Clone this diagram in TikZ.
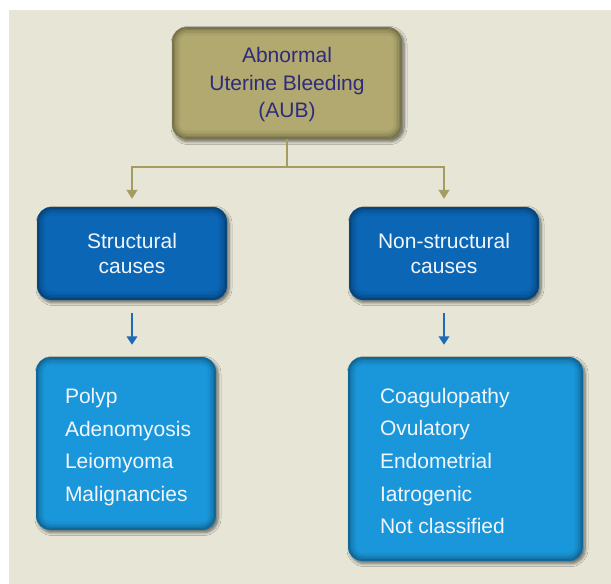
\documentclass[tikz,border=0pt]{standalone}
\usepackage{fontspec}
\setmainfont{Liberation Sans}
\usetikzlibrary{arrows.meta,shadows.blur,calc}
\definecolor{bgbeige}{HTML}{E7E5D5}
\definecolor{olivebox}{HTML}{B1A96F}
\definecolor{navytext}{HTML}{2E2B7B}
\definecolor{midblue}{HTML}{0B66B5}
\definecolor{lightblue}{HTML}{1A97DA}
\definecolor{oliveline}{HTML}{A59C62}
\definecolor{arrowblue}{HTML}{1E6BB8}
\definecolor{whitetext}{HTML}{F2F6FA}
\tikzset{
  bevel/.style={path picture={
    \foreach \d/\o/\r in {0.8/0.30/13.5,2.2/0.22/12,3.6/0.15/10.5,5/0.10/9,6.4/0.06/7.5,7.8/0.03/6}{
      \draw[black, opacity=\o, line width=1.5pt, rounded corners=\r pt]
        ([shift={(\d pt,\d pt)}]path picture bounding box.south west) rectangle
        ([shift={(-\d pt,-\d pt)}]path picture bounding box.north east);
    }}},
  boxbase/.style={rounded corners=14pt, inner sep=0pt, bevel,
    blur shadow={shadow xshift=2pt, shadow yshift=-2.5pt, shadow blur steps=6,
      shadow opacity=55, shadow blur radius=3pt}},
  topbox/.style={boxbase, fill=olivebox},
  toptext/.style={text=navytext, align=center, inner sep=0pt,
    font=\fontsize{21}{27.5}\selectfont},
  midbox/.style={boxbase, fill=midblue, text=whitetext, align=center,
    font=\fontsize{21}{25.5}\selectfont, minimum width=190pt, minimum height=93pt},
  lowbox/.style={boxbase, fill=lightblue},
  lowtext/.style={text=whitetext, align=left, inner sep=0pt, anchor=west,
    font=\fontsize{21}{32.6}\selectfont},
  oliveconn/.style={draw=oliveline, line width=1.5pt},
  olivearrow/.style={oliveconn, -{Triangle[width=11pt,length=9pt]}},
  bluearrow/.style={draw=arrowblue, line width=2pt, -{Triangle[width=10.5pt,length=8.5pt]}}
}
\begin{document}
\begin{tikzpicture}[x=1pt,y=-1pt]
  \useasboundingbox (0,0) rectangle (611,584);
  \fill[white] (0,0) rectangle (611,584);
  \fill[bgbeige] (9,10) rectangle (611,584);

  \node[topbox, minimum width=230pt, minimum height=112pt] (aub) at (287,83) {};
  \node[toptext] (aubtext) at ($(aub.center)+(0pt,-2pt)$)
    {Abnormal\\Uterine Bleeding\\(AUB)};
  \node[midbox] (struct) at (132,253.5) {Structural\\causes};
  \node[midbox] (nonstruct) at (444,253.5) {Non-structural\\causes};
  \node[lowbox, minimum width=180pt, minimum height=173pt] (lbox) at (126,443.5) {};
  \node[lowbox, minimum width=235pt, minimum height=204pt] (rbox) at (465.5,459) {};
  \node[lowtext] (ltext) at ($(lbox.west)+(29pt,-3.5pt)$)
    {Polyp\\Adenomyosis\\Leiomyoma\\Malignancies};
  \node[lowtext] (rtext) at ($(rbox.west)+(32pt,-2pt)$)
    {Coagulopathy\\Ovulatory\\Endometrial\\Iatrogenic\\Not classified};

  \coordinate (split) at (287,167);
  \draw[oliveconn] (aub.south) -- (split);
  \draw[olivearrow, shorten >=8pt] (split) -| (struct.north);
  \draw[olivearrow, shorten >=8pt] (split) -| (nonstruct.north);
  \draw[bluearrow, shorten <=13pt, shorten >=12pt] (struct.south) -- (struct.south |- lbox.north);
  \draw[bluearrow, shorten <=13pt, shorten >=12pt] (nonstruct.south) -- (nonstruct.south |- rbox.north);
\end{tikzpicture}
\end{document}
